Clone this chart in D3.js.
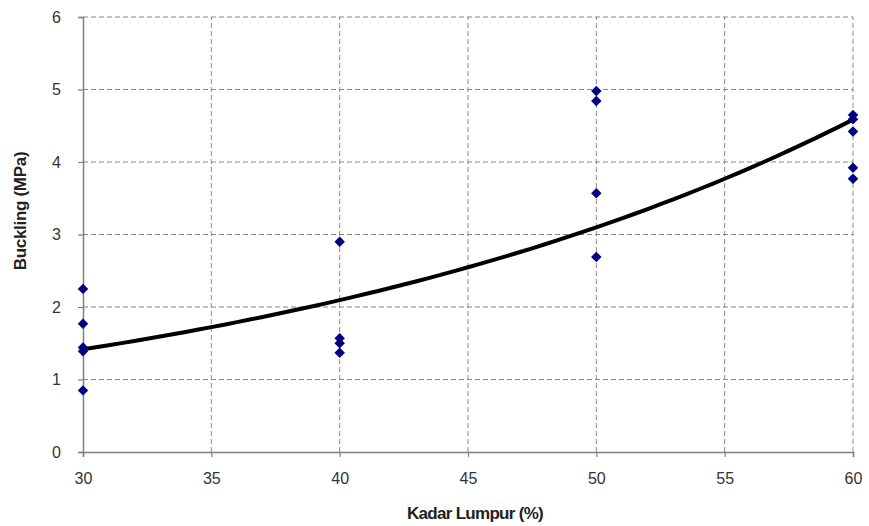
<!DOCTYPE html>
<html>
<head>
<meta charset="utf-8">
<script src="https://cdn.jsdelivr.net/npm/d3@7"></script>
<style>
  body { margin: 0; background: #fff; }
  text { font-family: "Liberation Sans", Arial, sans-serif; }
</style>
</head>
<body>
<div id="chart"></div>
<script>
// kadar lumpur (%) for each measured sample
var kadarLumpur = [30, 30, 30, 30, 30, 40, 40, 40, 40, 50, 50, 50, 50, 60, 60, 60, 60, 60];
// buckling (MPa)
var buckling = [2.25, 1.77, 1.44, 1.39, 0.85, 2.90, 1.57, 1.50, 1.37, 4.98, 4.84, 3.57, 2.69, 4.65, 4.59, 4.42, 3.92, 3.77];
var xTicks = [30, 35, 40, 45, 50, 55, 60];
var yTicks = [0, 1, 2, 3, 4, 5, 6];

var width = 869, height = 526;
var margin = {left: 83, right: 16, top: 17, bottom: 74};

var svg = d3.select('#chart').append('svg')
    .attr('width', width).attr('height', height);

var x = d3.scaleLinear().domain([30, 60]).range([margin.left, width - margin.right]);
var y = d3.scaleLinear().domain([0, 6]).range([height - margin.bottom, margin.top]);

// grid lines
svg.append('g').selectAll('line').data(yTicks.filter(d => d > 0)).enter().append('line')
    .attr('x1', margin.left).attr('x2', width - margin.right)
    .attr('y1', d => y(d)).attr('y2', d => y(d))
    .attr('stroke', '#888').attr('stroke-width', 1).attr('stroke-dasharray', '5,3');
svg.append('g').selectAll('line').data(xTicks.filter(d => d > 30)).enter().append('line')
    .attr('x1', d => x(d)).attr('x2', d => x(d))
    .attr('y1', y(0)).attr('y2', y(6))
    .attr('stroke', '#888').attr('stroke-width', 1).attr('stroke-dasharray', '5,3');

// axes
var yAxis = svg.append('g').attr('transform', 'translate(' + margin.left + ',0)')
    .call(d3.axisLeft(y).tickValues(yTicks).tickFormat(d3.format('d')).tickSize(5).tickPadding(17));
var xAxis = svg.append('g').attr('transform', 'translate(0,' + y(0) + ')')
    .call(d3.axisBottom(x).tickValues(xTicks).tickFormat(d3.format('d')).tickSize(5).tickPadding(16));
[yAxis, xAxis].forEach(function(g) {
    g.select('.domain').attr('stroke', '#808080').attr('stroke-width', 1.5);
    g.selectAll('.tick line').attr('stroke', '#808080').attr('stroke-width', 1.2);
    g.selectAll('.tick text').attr('fill', '#333').style('font-size', '16px')
        .style('font-family', '"Liberation Sans", Arial, sans-serif');
});
yAxis.selectAll('.tick line').attr('x1', 0).attr('x2', -5);

// exponential trendline (least squares on ln y)
var mx = d3.mean(kadarLumpur);
var my = d3.mean(buckling, d => Math.log(d));
var sxy = d3.sum(kadarLumpur, (d, i) => (d - mx) * (Math.log(buckling[i]) - my));
var sxx = d3.sum(kadarLumpur, d => (d - mx) * (d - mx));
var b = sxy / sxx, lnA = my - b * mx;
var trendX = d3.range(30, 60.01, 0.5);
var line = d3.line().x(d => x(d)).y(d => y(Math.exp(lnA + b * d)));
svg.append('path').attr('d', line(trendX))
    .attr('fill', 'none').attr('stroke', '#000').attr('stroke-width', 4);

// points
var diamond = d3.symbol().type(d3.symbolDiamond2).size(70);
svg.append('g').selectAll('path').data(buckling).enter().append('path')
    .attr('d', diamond)
    .attr('transform', (d, i) => 'translate(' + x(kadarLumpur[i]) + ',' + y(d) + ')')
    .attr('fill', '#000080');

// titles
svg.append('text').attr('x', 475).attr('y', 519).attr('text-anchor', 'middle')
    .style('font-size', '17px').style('font-weight', 'bold').attr('fill', '#222')
    .style('letter-spacing', '-0.7px')
    .text('Kadar Lumpur (%)');
svg.append('text').attr('transform', 'translate(26,211) rotate(-90)')
    .attr('text-anchor', 'middle')
    .style('font-size', '17px').style('font-weight', 'bold').attr('fill', '#222')
    .style('letter-spacing', '-0.3px')
    .text('Buckling (MPa)');
</script>
</body>
</html>
